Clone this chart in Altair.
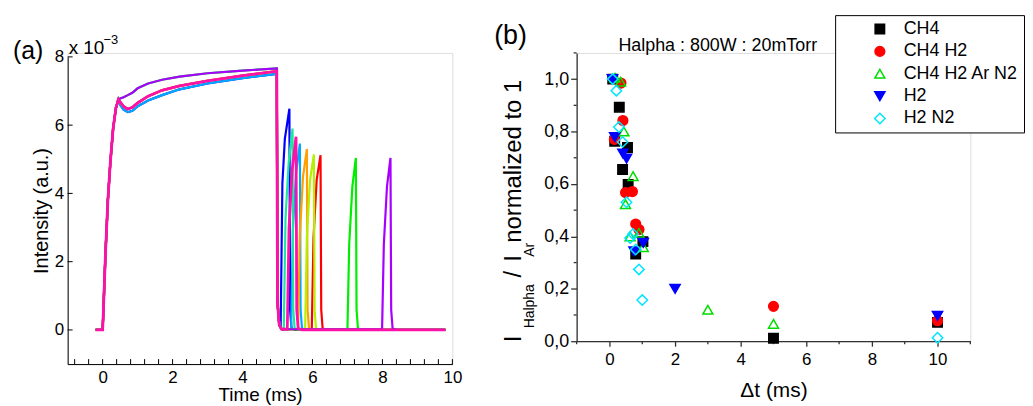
import altair as alt
import pandas as pd

FONT = "Liberation Sans"

# ---------------- Panel (a): time traces (intensity in units of 1e-3) ----------------
RISE_T = [-0.2, 0.0, 0.02, 0.08, 0.15, 0.22, 0.30, 0.38, 0.45]
RISE_V = [0.0, 0.0, 0.5, 2.2, 3.8, 4.9, 5.9, 6.5, 6.75]

PLATEAU_T = [0.5, 0.6, 0.72, 0.85, 1.0, 1.3, 1.7, 2.2, 3.0, 4.0, 4.98]
PLATEAU_UPPER = [6.78, 6.82, 6.88, 6.95, 7.08, 7.22, 7.33, 7.42, 7.52, 7.60, 7.66]
PLATEAU_MIDDLE = [6.68, 6.55, 6.47, 6.52, 6.65, 6.85, 7.02, 7.15, 7.30, 7.45, 7.58]
PLATEAU_LOWER = [6.60, 6.45, 6.38, 6.42, 6.55, 6.72, 6.88, 7.05, 7.22, 7.38, 7.50]

TRACES = ["blue", "sky blue", "spring green", "orange", "red", "yellow green", "green", "purple", "magenta"]
TRACE_COLORS = ["#0000ff", "#00a8ff", "#19e6a0", "#ffa000", "#ff0000", "#b4f000", "#00ee00", "#a800ff", "#ff10a8"]
TRACE_GROUPS = ["lower", "lower", "middle", "middle", "middle", "middle", "upper", "upper", "middle"]

AFTER_T = [
    [5.0, 5.05, 5.09, 5.14, 5.21, 5.34, 5.36, 5.40, 5.50, 9.8],
    [5.0, 5.05, 5.12, 5.39, 5.44, 5.53, 5.64, 5.66, 5.70, 5.80, 9.8],
    [5.0, 5.05, 5.12, 5.18, 5.23, 5.32, 5.43, 5.45, 5.49, 5.60, 9.8],
    [5.0, 5.05, 5.12, 5.59, 5.64, 5.73, 5.84, 5.86, 5.90, 6.00, 9.8],
    [5.0, 5.05, 5.12, 5.98, 6.03, 6.12, 6.23, 6.25, 6.29, 6.40, 9.8],
    [5.0, 5.05, 5.12, 5.79, 5.84, 5.93, 6.04, 6.06, 6.10, 6.20, 9.8],
    [5.0, 5.05, 5.12, 7.00, 7.05, 7.14, 7.24, 7.26, 7.30, 7.40, 9.8],
    [5.0, 5.05, 5.12, 7.99, 8.04, 8.13, 8.23, 8.25, 8.29, 8.40, 9.8],
    [5.0, 5.05, 5.12, 5.28, 5.33, 5.42, 5.53, 5.55, 5.59, 5.70, 9.8],
]
AFTER_V = [
    [0.8, 0.15, 0.05, 4.3, 5.6, 6.48, 0.6, 0.05, 0.0, 0.0],
    [0.8, 0.15, 0.02, 0.02, 2.9, 4.6, 5.46, 0.6, 0.05, 0.0, 0.0],
    [0.8, 0.15, 0.02, 0.02, 3.3, 4.9, 5.90, 0.6, 0.05, 0.0, 0.0],
    [0.8, 0.15, 0.02, 0.02, 2.8, 4.5, 5.30, 0.6, 0.05, 0.0, 0.0],
    [0.8, 0.15, 0.02, 0.02, 2.7, 4.4, 5.12, 0.6, 0.05, 0.0, 0.0],
    [0.8, 0.15, 0.02, 0.02, 2.7, 4.4, 5.14, 0.6, 0.05, 0.0, 0.0],
    [0.8, 0.15, 0.02, 0.02, 2.5, 4.2, 5.04, 0.6, 0.05, 0.0, 0.0],
    [0.8, 0.15, 0.02, 0.02, 2.5, 4.2, 5.04, 0.6, 0.05, 0.0, 0.0],
    [0.8, 0.15, 0.02, 0.02, 3.0, 4.7, 5.66, 0.6, 0.05, 0.0, 0.0],
]

XA_TICK_LABELS = [0, 2, 4, 6, 8, 10]
XA_TICKS = [-0.8, -0.4, 0.0, 0.4, 0.8, 1.2, 1.6, 2.0, 2.4, 2.8, 3.2, 3.6, 4.0, 4.4,
            4.8, 5.2, 5.6, 6.0, 6.4, 6.8, 7.2, 7.6, 8.0, 8.4, 8.8, 9.2, 9.6, 10.0]
YA_TICKS = [0, 2, 4, 6, 8]

# ---------------- Panel (b): normalized ratio vs delay ----------------
SERIES = ["CH4", "CH4 H2", "CH4 H2 Ar N2", "H2", "H2 N2"]
SERIES_SHAPES = ["square", "circle", "triangle-up", "triangle-down", "diamond"]
SERIES_STROKES = ["#000000", "#ff0000", "#00dd00", "#0000ff", "#00e5ff"]
SERIES_FILLS = ["#000000", "#ff0000", "transparent", "#0000ff", "transparent"]
SERIES_SIZES = [90, 110, 110, 120, 110]

DT_CH4 = [0.10, 0.16, 0.30, 0.40, 0.55, 0.57, 0.80, 1.02, 5.0, 10.0]
R_CH4 = [1.0, 0.763, 0.893, 0.655, 0.739, 0.598, 0.333, 0.38, 0.011, 0.072]
DT_CH4H2 = [0.15, 0.35, 0.41, 0.49, 0.70, 0.80, 0.90, 5.0, 10.0]
R_CH4H2 = [0.77, 0.985, 0.842, 0.567, 0.571, 0.447, 0.426, 0.133, 0.078]
DT_CH4H2ARN2 = [0.17, 0.34, 0.44, 0.49, 0.63, 0.72, 0.90, 1.03, 3.0, 5.0]
R_CH4H2ARN2 = [1.005, 0.99, 0.80, 0.523, 0.40, 0.63, 0.413, 0.359, 0.12, 0.066]
DT_H2 = [0.09, 0.16, 0.41, 0.52, 0.75, 1.03, 2.0, 10.0]
R_H2 = [1.0, 0.779, 0.716, 0.697, 0.343, 0.375, 0.20, 0.097]
DT_H2N2 = [0.10, 0.21, 0.29, 0.40, 0.52, 0.63, 0.72, 0.80, 0.90, 1.00, 10.0]
R_H2N2 = [1.0, 0.956, 0.817, 0.76, 0.53, 0.394, 0.409, 0.35, 0.274, 0.157, 0.013]

XB_MAJOR = [0, 2, 4, 6, 8, 10]
XB_MINOR = [-1, 1, 3, 5, 7, 9, 11]
YB_MAJOR = [0.0, 0.2, 0.4, 0.6, 0.8, 1.0]
YB_MINOR = [0.1, 0.3, 0.5, 0.7, 0.9, 1.1]

# ---------------- sizes ----------------
WA, HA = 387, 313
WB, HB = 396, 290
GAP = 125

# ================= Panel (a) =================
X_A = alt.X("t:Q", scale=alt.Scale(domain=[-1, 10], nice=False, zero=False),
            axis=alt.Axis(values=XA_TICK_LABELS, ticks=False, tickSize=0, grid=False,
                          domainColor="black", domainWidth=1, labelFont=FONT, labelFontSize=17,
                          labelColor="black", labelPadding=6, labelFlush=False,
                          title="Time (ms)", titleFont=FONT, titleFontSize=19,
                          titleFontWeight="normal", titleColor="black", titlePadding=0))
Y_A = alt.Y("v:Q", scale=alt.Scale(domain=[-1, 8], range=[HA, 4], nice=False, zero=False),
            axis=alt.Axis(values=YA_TICKS, ticks=False, tickSize=0, grid=False,
                          domainColor="black", domainWidth=1, labelFont=FONT, labelFontSize=17,
                          labelColor="black", labelPadding=4, labelFlush=False,
                          title="Intensity (a.u.)", titleFont=FONT, titleFontSize=20,
                          titleFontWeight="normal", titleColor="black", titlePadding=3))

groups = {"upper": PLATEAU_UPPER, "middle": PLATEAU_MIDDLE, "lower": PLATEAU_LOWER}
a_layers = []
anchor = alt.Chart(pd.DataFrame({"k": [0]})).mark_rule(strokeOpacity=0).encode(
    x=alt.value(-59), x2=alt.value(-58), y=alt.value(-43), y2=alt.value(-42))
a_layers.append(anchor)
for i, name in enumerate(TRACES):
    t = RISE_T + PLATEAU_T + AFTER_T[i]
    v = RISE_V + groups[TRACE_GROUPS[i]] + AFTER_V[i]
    df = pd.DataFrame({"t": t, "v": v, "trace": name})
    a_layers.append(
        alt.Chart(df).mark_line(color=TRACE_COLORS[i], strokeWidth=2.8 if name == "magenta" else 2.2)
        .encode(x=X_A, y=Y_A)
    )

xa_ticks = alt.Chart(pd.DataFrame({"t": XA_TICKS})).mark_rule(color="black", strokeWidth=1).encode(
    x=X_A, y=alt.value(HA), y2=alt.value(HA - 5))
ya_ticks = alt.Chart(pd.DataFrame({"v": YA_TICKS})).mark_rule(color="black", strokeWidth=1).encode(
    y=Y_A, x=alt.value(0), x2=alt.value(5))
a_layers += [xa_ticks, ya_ticks]


def label(text, x, y, size, align="left", baseline="alphabetic", angle=0):
    kw = dict(font=FONT, fontSize=size, align=align, baseline=baseline, color="black")
    if angle:
        kw["angle"] = angle
    return alt.Chart(pd.DataFrame({"s": [text]})).mark_text(**kw).encode(
        text="s:N", x=alt.value(x), y=alt.value(y))


a_layers += [
    label("(a)", -55, 6, 25),
    label("x 10", 1, 1, 19),
    label("\u22123", 36, -9, 13),
]
panel_a = alt.layer(*a_layers).properties(width=WA, height=HA)

# ================= Panel (b) =================
rows = []
for s, dts, rs in [("CH4", DT_CH4, R_CH4), ("CH4 H2", DT_CH4H2, R_CH4H2),
                   ("CH4 H2 Ar N2", DT_CH4H2ARN2, R_CH4H2ARN2), ("H2", DT_H2, R_H2),
                   ("H2 N2", DT_H2N2, R_H2N2)]:
    for d, r in zip(dts, rs):
        rows.append({"series": s, "dt": d, "r": r})
df_b = pd.DataFrame(rows)

AXCOL = "#333333"
X_B = alt.X("dt:Q", scale=alt.Scale(domain=[-1, 11], nice=False, zero=False),
            axis=alt.Axis(values=XB_MAJOR, tickSize=5, tickColor=AXCOL, tickWidth=1.3, grid=False,
                          domainColor=AXCOL, domainWidth=1.3, labelFont=FONT, labelFontSize=17,
                          labelColor="black", labelPadding=5, labelFlush=False,
                          title="\u0394t (ms)", titleFont=FONT, titleFontSize=21,
                          titleFontWeight="normal", titleColor="black", titlePadding=13))
Y_B = alt.Y("r:Q", scale=alt.Scale(domain=[0, 1.1], nice=False, zero=False),
            axis=alt.Axis(values=YB_MAJOR, tickSize=6, tickColor=AXCOL, tickWidth=1.3, grid=False,
                          domainColor=AXCOL, domainWidth=1.3, labelFont=FONT, labelFontSize=18,
                          labelColor="black", labelPadding=2, labelFlush=False,
                          labelExpr="replace(format(datum.value, '.1f'), '.', ',')",
                          title=None))

# legend is positioned in the top-level frame (origin = panel a plot origin)
leg = alt.Legend(title=None, orient="none", legendX=WA + GAP + 260, legendY=-38,
                 strokeColor="black", padding=5, fillColor="white",
                 labelFont=FONT, labelFontSize=18, labelColor="black",
                 symbolOffset=31, labelOffset=15, rowPadding=4.5, symbolStrokeWidth=1.5)

points = alt.Chart(df_b).mark_point(filled=False, opacity=1, strokeWidth=1.5).encode(
    x=X_B, y=Y_B,
    shape=alt.Shape("series:N", scale=alt.Scale(domain=SERIES, range=SERIES_SHAPES), legend=leg),
    stroke=alt.Stroke("series:N", scale=alt.Scale(domain=SERIES, range=SERIES_STROKES), legend=leg),
    fill=alt.Fill("series:N", scale=alt.Scale(domain=SERIES, range=SERIES_FILLS), legend=leg),
    size=alt.Size("series:N", scale=alt.Scale(domain=SERIES, range=SERIES_SIZES), legend=leg),
)

xb_minor = alt.Chart(pd.DataFrame({"dt": XB_MINOR})).mark_rule(color=AXCOL, strokeWidth=1.3).encode(
    x=X_B, y=alt.value(HB), y2=alt.value(HB + 3))
yb_minor = alt.Chart(pd.DataFrame({"r": YB_MINOR})).mark_rule(color=AXCOL, strokeWidth=1.3).encode(
    y=Y_B, x=alt.value(0), x2=alt.value(-3))

# y title with subscripts (rotated pieces)
MAIN_X, SUB_X = -55.5, -43
b_layers = [
    xb_minor, yb_minor, points,
    label("(b)", -83, -9, 27),
    label("Halpha : 800W : 20mTorr", 42, -2, 18),
    label("I", MAIN_X, 291, 24, angle=270),
    label("Halpha", SUB_X, 277, 14, angle=270),
    label("/", MAIN_X, 226, 24, angle=270),
    label("I", MAIN_X, 210, 24, angle=270),
    label("Ar", SUB_X, 205, 14, angle=270),
    label(" normalized to 1", MAIN_X, 191, 24, angle=270),
]
panel_b = alt.layer(*b_layers).properties(width=WB, height=HB)

chart = alt.hconcat(panel_a, panel_b, spacing=GAP, bounds="flush").properties(
    padding=0
).configure_view(stroke=None).configure(font=FONT)

chart.save("out.html", embed_options={"renderer": "svg", "actions": False})
